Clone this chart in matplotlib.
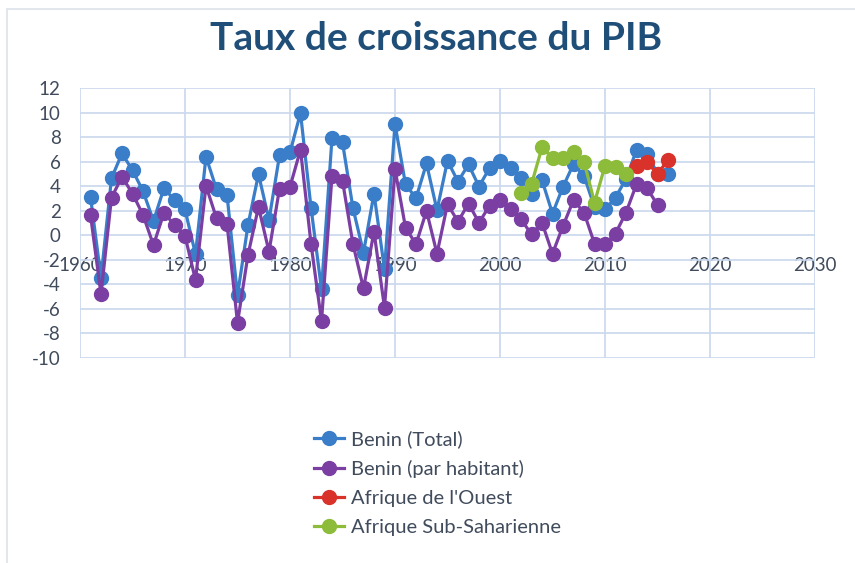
import numpy as np
import matplotlib
matplotlib.use('Agg')
import matplotlib.pyplot as plt
from matplotlib.patches import Rectangle

plt.rcParams['font.family'] = ['Lato', 'DejaVu Sans']
plt.rcParams['axes.unicode_minus'] = False

# data
benin_total_years = list(range(1961, 2017))
benin_total = [3.13, -3.46, 4.65, 6.67, 5.3, 3.6, 1.17, 3.84, 2.86, 2.1,
               -1.55, 6.4, 3.75, 3.3, -4.9, 0.84, 4.98, 1.25, 6.5, 6.75,
               9.96, 2.26, -4.4, 7.92, 7.56, 2.2, -1.41, 3.4, -2.78, 9.06,
               4.16, 3.02, 5.85, 2.04, 6.07, 4.38, 5.77, 3.97, 5.47, 6.07,
               5.47, 4.7, 3.35, 4.49, 1.77, 3.95, 5.8, 4.84, 2.3, 2.1,
               3.07, 4.6, 6.94, 6.66, 5.03, 5.03]

benin_hab_years = list(range(1961, 2016))
benin_hab = [1.66, -4.8, 3.07, 4.76, 3.4, 1.66, -0.8, 1.85, 0.82, -0.05,
             -3.65, 4.03, 1.39, 0.95, -7.13, -1.6, 2.31, -1.33, 3.8, 3.95,
             6.97, -0.68, -7.0, 4.84, 4.44, -0.73, -4.33, 0.3, -5.9, 5.39,
             0.63, -0.73, 1.99, -1.5, 2.53, 1.12, 2.58, 1.03, 2.4, 2.86,
             2.1, 1.3, 0.08, 1.03, -1.5, 0.76, 2.86, 1.85, -0.68, -0.73,
             0.14, 1.85, 4.16, 3.84, 2.48]

ouest_years = list(range(2013, 2017))
ouest = [5.66, 5.93, 5.03, 6.1]

ssa_years = list(range(2002, 2013))
ssa = [3.48, 4.16, 7.16, 6.29, 6.29, 6.75, 6.0, 2.67, 5.66, 5.58, 4.98]

labels = ['Benin (Total)', 'Benin (par habitant)', "Afrique de l'Ouest",
          'Afrique Sub-Saharienne']
colors = ['#3A7DC8', '#7B3FA3', '#D8322B', '#8DBC3B']

text_col = '#404B5C'

fig = plt.figure(figsize=(8.55, 5.63), dpi=100)
ax = fig.add_axes([80 / 855, 1 - 358 / 563, 735 / 855, 270 / 563])

series = [(benin_total_years, benin_total), (benin_hab_years, benin_hab),
          (ouest_years, ouest), (ssa_years, ssa)]
for (x, y), lab, c in zip(series, labels, colors):
    ax.plot(x, y, '-o', color=c, lw=2.3, ms=10, mec=c, mfc=c, label=lab)

ax.set_xlim(1960, 2030)
ax.set_ylim(-10, 12)
ax.set_xticks(range(1960, 2031, 10))
ax.set_yticks(range(-10, 13, 2))
ax.grid(True, color='#C9D8EC', lw=1.2)
ax.set_axisbelow(True)
for s in ax.spines.values():
    s.set_visible(False)
ax.spines['bottom'].set_position(('data', 0))
ax.tick_params(length=0, labelsize=13.5, labelcolor=text_col)
ax.tick_params(axis='x', pad=16)
ax.tick_params(axis='y', pad=14)

fig.text(436 / 855, 1 - 38 / 563, 'Taux de croissance du PIB', ha='center',
         va='center', fontsize=28, fontweight='bold', color='#1F4E79')

handles, labs = ax.get_legend_handles_labels()
fig.legend(handles, labs, loc='center left',
           bbox_to_anchor=(296 / 855, 1 - 483 / 563), frameon=False,
           fontsize=14.5, labelcolor=text_col, handlelength=1.5,
           handletextpad=0.35, labelspacing=0.58)

# faint chart border
fig.patches.append(Rectangle((7 / 855, -0.1), 1.2, 1.1 - 9 / 563,
                             transform=fig.transFigure, fill=False,
                             ec='#DDE3EA', lw=1.2))

fig.savefig('out.png', dpi=100)
